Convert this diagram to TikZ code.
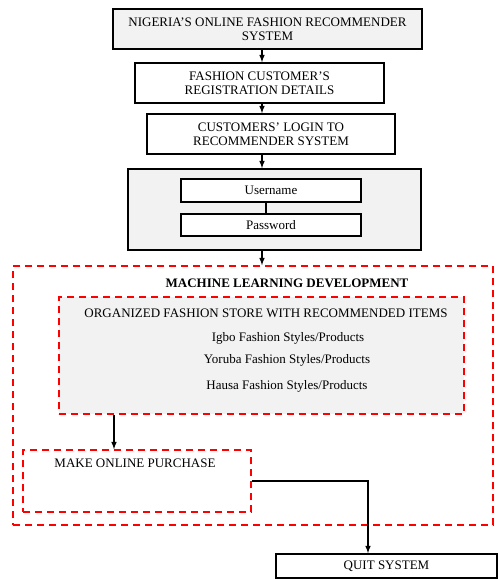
\documentclass[tikz,border=0pt]{standalone}
\usepackage{fontspec}
\setmainfont{Liberation Serif}
\usepackage{xcolor}
\usepackage{tikz}

\begin{document}
\begin{tikzpicture}[x=1pt, y=-1pt,
    font=\fontsize{13}{14}\selectfont,
    box/.style={draw, line width=1.6pt, align=center, inner sep=0pt},
    redbox/.style={draw=red, line width=1.6pt, dash pattern=on 7pt off 5pt, inner sep=0pt},
    arr/.style={line width=1.5pt, -latex}]
    \useasboundingbox (0,0) rectangle (498,579);

    % Top of the flow
    \node[box, fill=gray!10, minimum width=309pt, minimum height=40pt] (title) at (267.5,29)
        {NIGERIA'S ONLINE FASHION RECOMMENDER\\SYSTEM};
    \node[box, minimum width=249pt, minimum height=40pt] (reg) at (259.5,83)
        {FASHION CUSTOMER'S\\REGISTRATION DETAILS};
    \node[box, minimum width=248pt, minimum height=40pt] (login) at (271,134)
        {CUSTOMERS' LOGIN TO\\RECOMMENDER SYSTEM};

    % Login form
    \node[box, fill=gray!10, minimum width=293pt, minimum height=81pt] (form) at (274.5,209.5) {};
    \node[box, fill=white, minimum width=180pt, minimum height=23pt] (user) at (271,190.5) {Username};
    \node[box, fill=white, minimum width=180pt, minimum height=22pt] (pass) at (271,225) {Password};

    % Machine learning part
    \node[redbox, minimum width=480pt, minimum height=259pt] (ml) at (253,395.5) {};
    \node[font=\fontsize{13}{14}\selectfont\bfseries] (mltitle) at (287,283) {MACHINE LEARNING DEVELOPMENT};
    \node[redbox, fill=gray!10, minimum width=405pt, minimum height=117pt] (store) at (261.5,355.5) {};
    \node (storetitle) at (266,313) {ORGANIZED FASHION STORE WITH RECOMMENDED ITEMS};
    \node (igbo) at (288,338) {Igbo Fashion Styles/Products};
    \node (yoruba) at (287,360) {Yoruba Fashion Styles/Products};
    \node (hausa) at (287,386) {Hausa Fashion Styles/Products};

    \node[redbox, minimum width=228pt, minimum height=62pt] (buy) at (137,481) {};
    \node (buytitle) at (135,463) {MAKE ONLINE PURCHASE};

    \node[box, minimum width=221pt, minimum height=24pt] (quit) at (386.5,566) {QUIT SYSTEM};

    % Connectors
    \coordinate (spine) at (262,0);
    \coordinate (link) at (266,0);
    \coordinate (down) at (114,0);
    \coordinate (out) at (368,0);
    \draw[arr] (title.south -| spine) -- (reg.north -| spine);
    \draw[arr] (reg.south -| spine) -- (login.north -| spine);
    \draw[arr] (login.south -| spine) -- (form.north -| spine);
    \draw[line width=1.5pt] (user.south -| link) -- (pass.north -| link);
    \draw[arr] (form.south -| spine) -- (ml.north -| spine);
    \draw[arr] (store.south -| down) -- (buy.north -| down);
    \draw[arr] (buy.east) -| (quit.north -| out);
\end{tikzpicture}
\end{document}
